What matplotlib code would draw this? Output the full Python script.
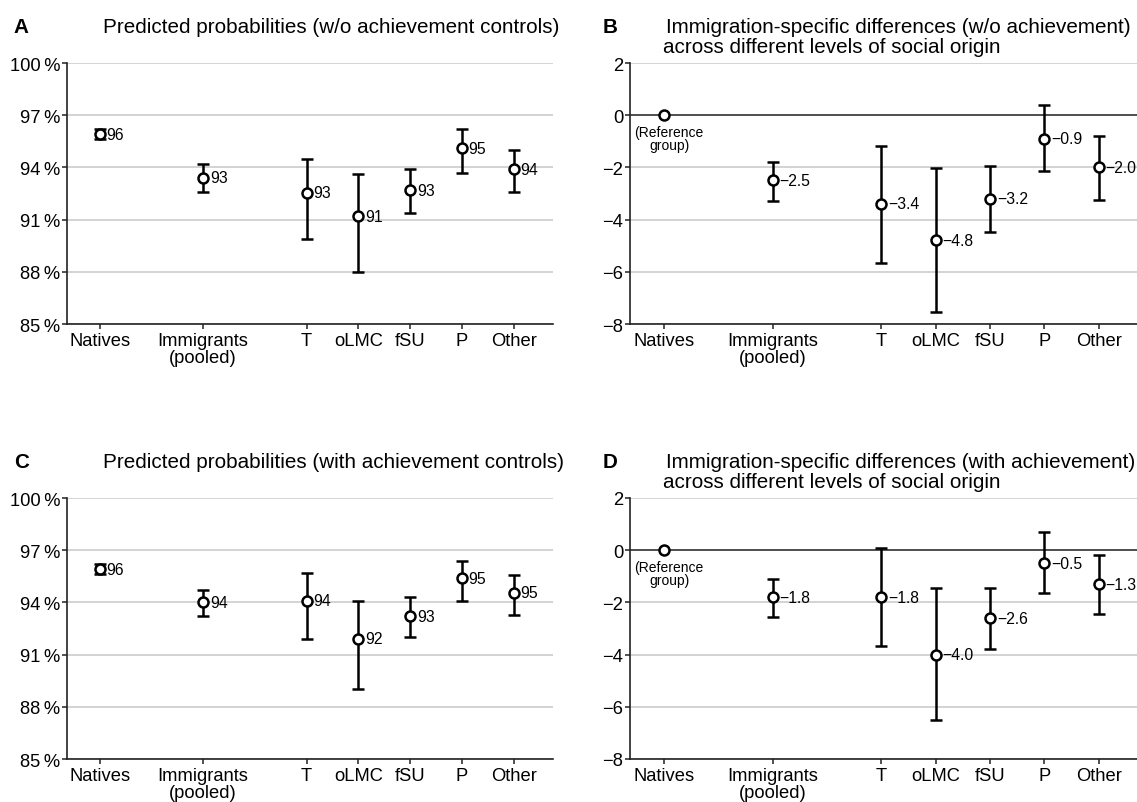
import matplotlib.pyplot as plt

plt.rcParams['font.family'] = ['Liberation Sans', 'DejaVu Sans']

groups = ['Natives', 'Immigrants\n(pooled)', 'T', 'oLMC', 'fSU', 'P', 'Other']
xpos = [0, 2, 4, 5, 6, 7, 8]

# A: predicted probabilities, w/o achievement controls
prob_a = [95.9, 93.4, 92.55, 91.2, 92.7, 95.1, 93.9]
prob_a_lo = [95.62, 92.6, 89.9, 88.0, 91.4, 93.7, 92.6]
prob_a_hi = [96.18, 94.2, 94.5, 93.6, 93.9, 96.2, 95.0]

# C: predicted probabilities, with achievement controls
prob_c = [95.9, 94.0, 94.1, 91.9, 93.2, 95.4, 94.55]
prob_c_lo = [95.62, 93.2, 91.9, 89.0, 92.0, 94.1, 93.3]
prob_c_hi = [96.18, 94.7, 95.7, 94.1, 94.3, 96.4, 95.6]

# B: differences w/o achievement
diff_b = [0.0, -2.5, -3.4, -4.8, -3.2, -0.9, -2.0]
diff_b_lo = [0.0, -3.27, -5.67, -7.53, -4.47, -2.14, -3.24]
diff_b_hi = [0.0, -1.78, -1.18, -2.04, -1.95, 0.38, -0.80]

# D: differences with achievement
diff_d = [0.0, -1.8, -1.8, -4.0, -2.6, -0.5, -1.3]
diff_d_lo = [0.0, -2.55, -3.66, -6.51, -3.79, -1.63, -2.45]
diff_d_hi = [0.0, -1.12, 0.08, -1.44, -1.44, 0.71, -0.19]

W, H = 1137, 803
fig = plt.figure(figsize=(W / 100, H / 100), dpi=100)


def box(x0, y0, x1, y1):
    # pixel box -> figure fraction [left, bottom, width, height]
    return [x0 / W, 1 - y1 / H, (x1 - x0) / W, (y1 - y0) / H]


def style(ax):
    for s in ['top', 'right']:
        ax.spines[s].set_visible(False)
    for s in ['left', 'bottom']:
        ax.spines[s].set_color('#222222')
        ax.spines[s].set_linewidth(1.2)
    ax.tick_params(length=3.5, width=1.1, color='#222222', labelsize=13.2, pad=1.5)
    ax.tick_params(axis='x', pad=2)
    ax.yaxis.grid(True, color='#cccccc', lw=1.2)
    ax.set_axisbelow(True)
    ax.set_xlim(-0.63, 8.76)
    ax.set_xticks(xpos)
    ax.set_xticklabels(groups, linespacing=1.0)


def draw(ax, vals, lo, hi, labels, skip_first=False):
    start = 1 if skip_first else 0
    xs = xpos[start:]
    v = vals[start:]
    err = [[a - b for a, b in zip(v, lo[start:])], [b - a for a, b in zip(v, hi[start:])]]
    ax.errorbar(xs, v, yerr=err, fmt='none', ecolor='black', elinewidth=1.8,
                capsize=4.2, capthick=1.8, zorder=3)
    ax.plot(xpos, vals, 'o', ms=7.2, mfc='white', mec='black', mew=1.8, zorder=4)
    for i, (x, y) in enumerate(zip(xpos, vals)):
        if skip_first and i == 0:
            continue
        ax.annotate(labels[i], (x, y), xytext=(4.8, 0), textcoords='offset points',
                    ha='left', va='center', fontsize=11.3, zorder=5)


# panel A
axA = fig.add_axes(box(67, 64, 553, 325))
style(axA)
draw(axA, prob_a, prob_a_lo, prob_a_hi, [f'{v:.0f}' for v in prob_a])
axA.set_ylim(85, 100)
pticks = [85, 88, 91, 94, 97, 100]
axA.set_yticks(pticks)
axA.set_yticklabels([f'{t}\u2009%' for t in pticks])

# panel C
axC = fig.add_axes(box(67, 499, 553, 760))
style(axC)
draw(axC, prob_c, prob_c_lo, prob_c_hi, [f'{v:.0f}' for v in prob_c])
axC.set_ylim(85, 100)
axC.set_yticks(pticks)
axC.set_yticklabels([f'{t}\u2009%' for t in pticks])

# panels B and D
dticks = [-8, -6, -4, -2, 0, 2]
for pos, vals, lo, hi in [((630, 64, 1140, 325), diff_b, diff_b_lo, diff_b_hi),
                          ((630, 499, 1140, 760), diff_d, diff_d_lo, diff_d_hi)]:
    ax = fig.add_axes(box(*pos))
    style(ax)
    ax.axhline(0, color='#444444', lw=1.3, zorder=2)
    draw(ax, vals, lo, hi, [f'{v:.1f}'.replace('-', '\u2212') for v in vals], skip_first=True)
    ax.set_ylim(-8, 2)
    ax.set_yticks(dticks)
    ax.annotate('(Reference\ngroup)', (xpos[0], 0), xytext=(3.5, -7), textcoords='offset points',
                ha='center', va='top', fontsize=10, linespacing=0.95)

# titles
tfs = 14.9
fig.text(13 / W, 1 - 33 / H, 'A', fontsize=tfs, fontweight='bold', va='baseline')
fig.text(103 / W, 1 - 33 / H, 'Predicted probabilities (w/o achievement controls)', fontsize=tfs, va='baseline')
fig.text(14 / W, 1 - 468 / H, 'C', fontsize=tfs, fontweight='bold', va='baseline')
fig.text(103 / W, 1 - 468 / H, 'Predicted probabilities (with achievement controls)', fontsize=tfs, va='baseline')

fig.text(603 / W, 1 - 33 / H, 'B', fontsize=tfs, fontweight='bold', va='baseline')
fig.text(666 / W, 1 - 33 / H, 'Immigration-specific differences (w/o achievement)', fontsize=tfs, va='baseline')
fig.text(663 / W, 1 - 53 / H, 'across different levels of social origin', fontsize=tfs, va='baseline')
fig.text(603 / W, 1 - 468 / H, 'D', fontsize=tfs, fontweight='bold', va='baseline')
fig.text(666 / W, 1 - 468 / H, 'Immigration-specific differences (with achievement)', fontsize=tfs, va='baseline')
fig.text(663 / W, 1 - 488 / H, 'across different levels of social origin', fontsize=tfs, va='baseline')

fig.savefig('out.png', dpi=100)
